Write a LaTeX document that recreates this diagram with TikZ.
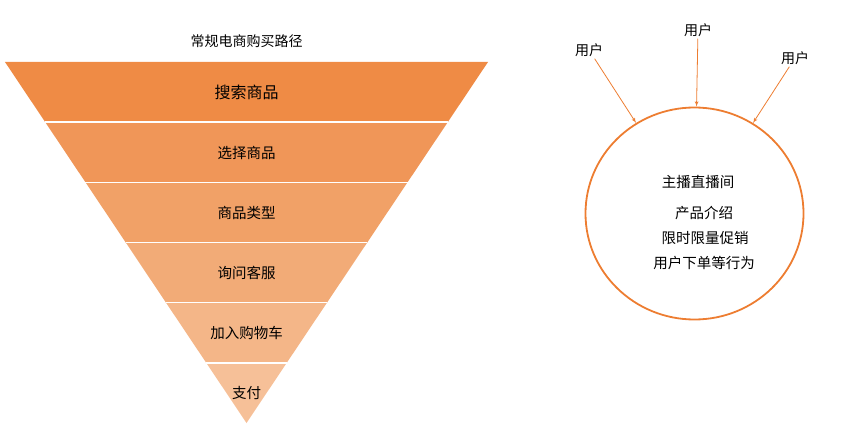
\documentclass[tikz,border=0pt]{standalone}
\usepackage{fontspec}
\setmainfont{Noto Sans CJK SC}
\usepackage{tikz}
\usetikzlibrary{arrows, shapes.geometric}
\definecolor{bandA}{RGB}{239,139,69}
\definecolor{bandB}{RGB}{240,150,88}
\definecolor{bandC}{RGB}{241,161,103}
\definecolor{bandD}{RGB}{242,171,119}
\definecolor{bandE}{RGB}{244,182,136}
\definecolor{bandF}{RGB}{246,192,152}
\definecolor{ringorange}{RGB}{237,125,49}
\begin{document}
\begin{tikzpicture}
      [
        x=1pt, y=-1pt,
        label/.style={font=\fontsize{14.5}{17}\selectfont, inner sep=2pt},
        biglabel/.style={font=\fontsize{16}{19}\selectfont, inner sep=2pt},
        user/.style={font=\fontsize{14}{17}\selectfont, inner sep=2pt},
        room/.style={draw=ringorange, line width=1.8pt, ellipse,
          minimum width=218pt, minimum height=212pt},
        feed/.style={draw=ringorange, line width=0.8pt, ->, >=latex'}
      ]
      \useasboundingbox (0,0) rectangle (859,438);
      % funnel bands
      \foreach \i/\col in {0/bandA,1/bandB,2/bandC,3/bandD,4/bandE,5/bandF} {
          \pgfmathsetmacro\ya{62+60.17*\i}
          \pgfmathsetmacro\yb{\ya+60.17}
          \pgfmathsetmacro\wa{(423-\ya)*0.669}
          \pgfmathsetmacro\wb{(423-\yb)*0.669}
          \fill [\col] (246.5-\wa,\ya) -- (246.5+\wa,\ya)
            -- (246.5+\wb,\yb) -- (246.5-\wb,\yb) -- cycle;
      }
      % white separators
      \foreach \i in {1,...,5} {
          \pgfmathsetmacro\ya{62+60.17*\i}
          \pgfmathsetmacro\wa{(423-\ya)*0.669}
          \draw [white, line width=1.5pt] (246.5-\wa,\ya) -- (246.5+\wa,\ya);
      }
      % labels
      \node [user] (path) at (246.5,41) {常规电商购买路径};
      \node [biglabel] (s0) at (246.5,92) {搜索商品};
      \node [label] (s1) at (246.5,152.5) {选择商品};
      \node [label] (s2) at (246.5,213) {商品类型};
      \node [label] (s3) at (246.5,273) {询问客服};
      \node [label] (s4) at (246.5,333) {加入购物车};
      \node [label] (s5) at (246.5,393) {支付};
      % live room
      \node [room] (live) at (694.5,213.5) {};
      \node [label] (host) at (698,182) {主播直播间};
      \node [label] (intro) at (704,213) {产品介绍};
      \node [label] (promo) at (705,237.5) {限时限量促销};
      \node [label] (order) at (704,263) {用户下单等行为};
      % users
      \node [user] (u1) at (589,50) {用户};
      \node [user] (u2) at (698,30) {用户};
      \node [user] (u3) at (795,58) {用户};
      \draw [feed] (u1) -- (live);
      \draw [feed] (u2) -- (live);
      \draw [feed] (u3) -- (live);
\end{tikzpicture}
\end{document}
